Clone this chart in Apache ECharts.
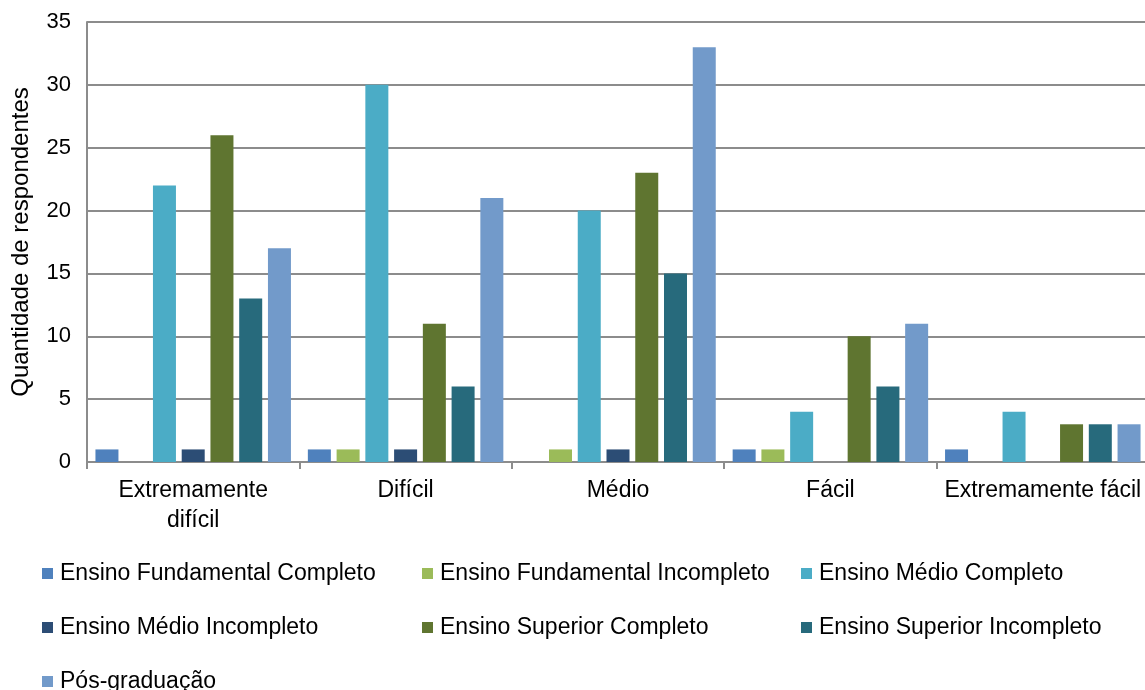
<!DOCTYPE html>
<html>
<head>
<meta charset="utf-8">
<script src="https://cdn.jsdelivr.net/npm/echarts@6/dist/echarts.min.js"></script>
<style>
html,body{margin:0;padding:0;background:#fff;}
#chart{width:1145px;height:690px;}
</style>
</head>
<body>
<div id="chart"></div>
<script>
const categories = ['Extremamente\ndifícil', 'Difícil', 'Médio', 'Fácil', 'Extremamente fácil'];
const seriesNames = [
  'Ensino Fundamental Completo',
  'Ensino Fundamental Incompleto',
  'Ensino Médio Completo',
  'Ensino Médio Incompleto',
  'Ensino Superior Completo',
  'Ensino Superior Incompleto',
  'Pós-graduação'
];
const fundamentalCompleto   = [1, 1, 0, 1, 1];
const fundamentalIncompleto = [0, 1, 1, 1, 0];
const medioCompleto         = [22, 30, 20, 4, 4];
const medioIncompleto       = [1, 1, 1, 0, 0];
const superiorCompleto      = [26, 11, 23, 10, 3];
const superiorIncompleto    = [13, 6, 15, 6, 3];
const posGraduacao          = [17, 21, 33, 11, 3];
const yTicks = [0, 5, 10, 15, 20, 25, 30, 35];

const seriesValues = [fundamentalCompleto, fundamentalIncompleto, medioCompleto, medioIncompleto, superiorCompleto, superiorIncompleto, posGraduacao];
const colors = ['#4F81BD', '#9BBB59', '#4BACC6', '#2C4D75', '#5F7530', '#276A7C', '#729ACA'];
const FONT = '"Liberation Sans", Arial, sans-serif';

const chart = echarts.init(document.getElementById('chart'), null, {renderer: 'canvas'});

function legendCol(left, names) {
  return {
    orient: 'vertical',
    left: left,
    top: 562,
    height: 160,
    padding: 0,
    itemWidth: 11,
    itemHeight: 11,
    itemGap: 31,
    icon: 'rect',
    data: names,
    selectedMode: false,
    textStyle: {fontFamily: FONT, fontSize: 23, color: '#000', lineHeight: 22, padding: [0, 0, 0, 2]}
  };
}

chart.setOption({
  animation: false,
  color: colors,
  textStyle: {fontFamily: FONT},
  grid: {left: 87, top: 22, width: 1062, height: 440, containLabel: false, outerBoundsMode: 'none'},
  legend: [
    legendCol(42, [seriesNames[0], seriesNames[3], seriesNames[6]]),
    legendCol(422, [seriesNames[1], seriesNames[4]]),
    legendCol(801, [seriesNames[2], seriesNames[5]])
  ],
  xAxis: {
    type: 'category',
    data: categories,
    axisLine: {show: true, lineStyle: {color: '#8c8c8c', width: 2}},
    axisTick: {show: true, length: 7, alignWithLabel: false, lineStyle: {color: '#8c8c8c', width: 2}},
    axisLabel: {fontFamily: FONT, fontSize: 23, color: '#000', lineHeight: 30, margin: 14, interval: 0}
  },
  yAxis: {
    type: 'value',
    min: yTicks[0],
    max: yTicks[yTicks.length - 1],
    interval: 5,
    name: 'Quantidade de respondentes',
    nameLocation: 'middle',
    nameGap: 54,
    nameTextStyle: {fontFamily: FONT, fontSize: 24, color: '#000'},
    axisLine: {show: true, lineStyle: {color: '#8c8c8c', width: 2}},
    axisTick: {show: false},
    axisLabel: {fontFamily: FONT, fontSize: 22, color: '#000', margin: 16},
    splitLine: {show: true, lineStyle: {color: '#8c8c8c', width: 2}}
  },
  series: seriesNames.map((name, i) => ({
    name: name,
    type: 'bar',
    data: seriesValues[i],
    barWidth: 23,
    barGap: '25%',
    itemStyle: {color: colors[i]}
  }))
});
</script>
</body>
</html>
